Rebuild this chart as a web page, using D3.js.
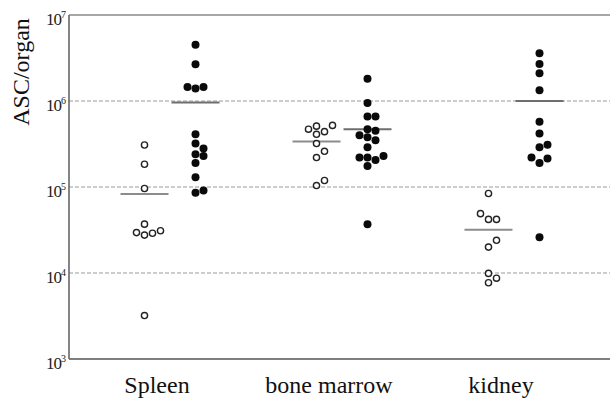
<!DOCTYPE html>
<html><head><meta charset="utf-8">
<script src="https://cdn.jsdelivr.net/npm/d3@7"></script>
<style>body{margin:0;background:#fff} svg{display:block} .serif{font-family:"Liberation Serif","Times New Roman",serif}</style>
</head><body>
<svg id="c" width="610" height="402"></svg>
<script>
// ---- data ----
const groups = ["Spleen", "bone marrow", "kidney"];
const series = ["open", "filled"];
const spleenOpen   = [3.08e5, 1.84e5, 9.6e4, 3.7e4, 3.1e4, 2.9e4, 2.76e4, 2.95e4, 3.2e3];
const spleenFilled = [4.5e6, 2.67e6, 1.45e6, 1.4e6, 1.45e6, 4.1e5, 3.2e5, 2.8e5, 2.4e5, 2.3e5, 1.9e5, 1.3e5, 8.6e4, 9.1e4];
const marrowOpen   = [5.2e5, 4.4e5, 4.1e5, 4.7e5, 5.1e5, 3.2e5, 2.6e5, 2.2e5, 1.04e5, 1.19e5];
const marrowFilled = [1.82e6, 9.5e5, 6.6e5, 6.6e5, 4.5e5, 4.7e5, 3.5e5, 3.8e5, 4.0e5, 2.9e5, 2.3e5, 2.06e5, 2.2e5, 2.2e5, 1.75e5, 3.7e4];
const kidneyOpen   = [8.4e4, 4.9e4, 4.2e4, 4.2e4, 2.4e4, 2.0e4, 9.9e3, 8.7e3, 7.7e3];
const kidneyFilled = [3.6e6, 2.7e6, 2.1e6, 1.33e6, 5.75e5, 4.2e5, 2.9e5, 3.1e5, 2.14e5, 2.2e5, 1.9e5, 2.6e4];
const yTicks = [1e3, 1e4, 1e5, 1e6, 1e7];
const tickBase = "10";
const tickExp = ["3", "4", "5", "6", "7"];
const yLabel = "ASC/organ";

const table = [
  {group: "Spleen", series: "open", values: spleenOpen},
  {group: "Spleen", series: "filled", values: spleenFilled},
  {group: "bone marrow", series: "open", values: marrowOpen},
  {group: "bone marrow", series: "filled", values: marrowFilled},
  {group: "kidney", series: "open", values: kidneyOpen},
  {group: "kidney", series: "filled", values: kidneyFilled}
];

// ---- layout ----
const L = 69, R = 610, T = 15, B = 359;
const svg = d3.select("#c");
const y = d3.scaleLog().domain([1e3, 1e7]).range([B, T]);
const x = d3.scaleBand().domain(groups).range([84, 600]);
const sub = d3.scalePoint().domain(series).range([-25.5, 25.5]);
const serif = '"Liberation Serif","Times New Roman",serif';

// grid lines
svg.append("g").selectAll("line").data(yTicks.slice(1, 4)).join("line")
  .attr("x1", L).attr("x2", R).attr("y1", d => y(d)).attr("y2", d => y(d))
  .attr("stroke", "#9a9a9a").attr("stroke-width", 1).attr("stroke-dasharray", "4,2");
// top border
svg.append("line").attr("x1", L).attr("x2", R).attr("y1", y(1e7)).attr("y2", y(1e7))
  .attr("stroke", "#8a8a8a").attr("stroke-width", 1.5);

// axes
const xAxis = d3.axisBottom(x).tickSize(0).tickPadding(0);
const gx = svg.append("g").attr("transform", `translate(0,${B})`).call(xAxis);
gx.attr("font-family", null).attr("font-size", null).attr("class", "serif");
gx.select(".domain").attr("d", `M${L},0H${R}`).attr("stroke", "#555").attr("stroke-width", 1.6);
gx.selectAll(".tick text").attr("class", "serif").style("font-family", serif).style("font-size", "24px")
  .attr("fill", "#111").attr("dy", null).attr("y", 34).attr("dx", -13);

const yAxis = d3.axisLeft(y).tickValues(yTicks).tickSize(0).tickFormat("");
const gy = svg.append("g").attr("transform", `translate(${L},0)`).call(yAxis);
gy.select(".domain").attr("d", `M0,${T}V${B}`).attr("stroke", "#666").attr("stroke-width", 1.6);

const tl = svg.append("g").attr("class", "serif").attr("fill", "#222");
yTicks.forEach((d, i) => {
  const t = tl.append("text").attr("x", L - 3).attr("y", y(d) + 10).attr("text-anchor", "end");
  t.append("tspan").style("font-size", "17px").attr("letter-spacing", -1).text(tickBase);
  t.append("tspan").style("font-size", "10px").attr("dy", -7).text(tickExp[i]);
});

svg.append("text").attr("class", "serif").attr("transform", `translate(29,72) rotate(-90)`)
  .attr("text-anchor", "middle").style("font-size", "24px")
  .attr("fill", "#111").text(yLabel);

// beeswarm slot placement
const slotW = 8, minDy = 7.2;
const slotOrder = [0, 1, -1, 2, -2, 3, -3];
function swarm(values) {
  const placed = [];
  values.slice().sort((a, b) => a - b).forEach(v => {
    const py = y(v);
    const s = slotOrder.find(k => !placed.some(p => p.slot === k && Math.abs(p.py - py) < minDy));
    placed.push({v, py, slot: s});
  });
  return placed;
}

table.forEach(t => {
  const cx = x(t.group) + x.bandwidth() / 2 + sub(t.series);
  const pts = swarm(t.values);
  const g = svg.append("g");
  const m = d3.mean(t.values);
  g.append("line").attr("x1", cx - 24).attr("x2", cx + 24).attr("y1", y(m)).attr("y2", y(m))
    .attr("stroke", t.series === "open" ? "#8c8c8c" : "#6e6e6e").attr("stroke-width", 2);
  g.selectAll("circle").data(pts).join("circle")
    .attr("cx", d => cx + d.slot * slotW).attr("cy", d => d.py)
    .attr("r", t.series === "open" ? 3.1 : 4)
    .attr("fill", t.series === "open" ? "#fff" : "#0a0a0a")
    .attr("stroke", t.series === "open" ? "#222" : "none")
    .attr("stroke-width", 1.4);
});
</script>
</body></html>
